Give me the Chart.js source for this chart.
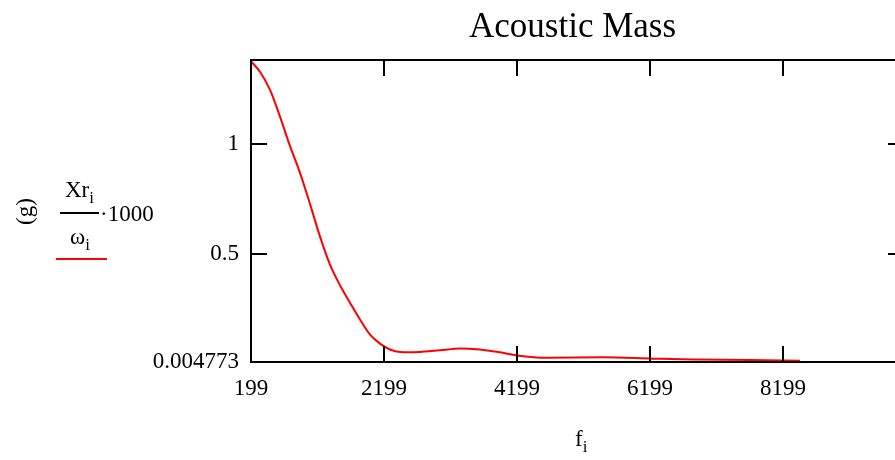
<!DOCTYPE html>
<html><head><meta charset="utf-8">
<script src="https://cdn.jsdelivr.net/npm/chart.js@4/dist/chart.umd.min.js"></script>
<style>
html,body{margin:0;padding:0;background:#fff;overflow:hidden;width:895px;height:460px;}
#wrap{position:relative;width:920px;height:460px;}
canvas{position:absolute;left:0;top:0;}
.t{position:absolute;font-family:"Liberation Serif","Times New Roman",serif;color:#000;white-space:nowrap;line-height:1;}
.sub{font-size:17px;position:relative;top:6px;}
</style></head>
<body>
<div id="wrap">
<canvas id="c" width="920" height="460"></canvas>
<div class="t" style="left:469px;top:8px;font-size:35px;">Acoustic Mass</div>
<div class="t" style="left:13px;top:201px;font-size:23px;transform:rotate(-90deg);transform-origin:12px 12px;">(g)</div>
<div class="t" style="left:65px;top:178px;font-size:23px;">Xr<span class="sub">i</span></div>
<div style="position:absolute;left:60px;top:212px;width:39px;height:2px;background:#000;"></div>
<div class="t" style="left:100px;top:202px;font-size:23px;">·1000</div>
<div class="t" style="left:70px;top:225px;font-size:23px;">ω<span class="sub">i</span></div>
<div style="position:absolute;left:56px;top:258px;width:51px;height:2px;background:#ff0000;"></div>
<div class="t" style="left:575px;top:427px;font-size:23px;">f<span class="sub">i</span></div>
</div>
<script>
const freq = [199, 334, 485, 635, 785, 936, 1086, 1237, 1387, 1537, 1688, 1838, 1989, 2139, 2289, 2440, 2590, 2740, 3041, 3342, 3642, 3943, 4199, 4650, 5492, 6244, 6846, 7703, 8455];
const massG = [1.381, 1.332, 1.249, 1.127, 0.993, 0.870, 0.728, 0.578, 0.450, 0.356, 0.276, 0.199, 0.130, 0.089, 0.062, 0.050, 0.049, 0.051, 0.058, 0.067, 0.062, 0.049, 0.035, 0.024, 0.026, 0.020, 0.016, 0.014, 0.010];
const xTicks = [199, 2199, 4199, 6199, 8199];
const yTicks = [0.004773, 0.5, 1];
const xMin = 199, xMax = 10019;
const yMin = 0.004773, yMax = 1.386;

const frame = {
  id: 'frame',
  afterDraw(chart) {
    const ctx = chart.ctx, a = chart.chartArea;
    const xs = chart.scales.x, ys = chart.scales.y;
    ctx.save();
    ctx.strokeStyle = '#000';
    ctx.lineWidth = 2;
    ctx.beginPath();
    ctx.rect(a.left, a.top, a.right - a.left, a.bottom - a.top);
    ctx.stroke();
    const L = 16;
    ctx.beginPath();
    xTicks.slice(1).forEach(v => {
      const px = Math.round(xs.getPixelForValue(v));
      ctx.moveTo(px, a.bottom); ctx.lineTo(px, a.bottom - L);
      ctx.moveTo(px, a.top); ctx.lineTo(px, a.top + L);
    });
    yTicks.slice(1).forEach(v => {
      const py = Math.round(ys.getPixelForValue(v));
      ctx.moveTo(a.left, py); ctx.lineTo(a.left + L, py);
      ctx.moveTo(a.right, py); ctx.lineTo(a.right - L, py);
    });
    ctx.stroke();
    ctx.restore();
  }
};

new Chart(document.getElementById('c'), {
  type: 'line',
  data: {
    datasets: [{
      data: freq.map((f, i) => ({x: f, y: massG[i]})),
      borderColor: '#ff0000',
      borderWidth: 2,
      pointRadius: 0,
      tension: 0.4,
      cubicInterpolationMode: 'monotone',
      fill: false
    }]
  },
  options: {
    responsive: false,
    animation: false,
    devicePixelRatio: 1,
    layout: {padding: {top: 60, right: 16, left: 0, bottom: 0}},
    plugins: {legend: {display: false}, title: {display: false}, tooltip: {enabled: false}},
    scales: {
      x: {
        type: 'linear', min: xMin, max: xMax,
        afterBuildTicks: s => { s.ticks = xTicks.map(v => ({value: v})); },
        afterFit: s => { s.height = 460 - 362; },
        grid: {display: false, drawTicks: false},
        border: {display: false},
        ticks: {color: '#000', padding: 13, maxRotation: 0, autoSkip: false,
          font: {family: '"Liberation Serif", "Times New Roman", serif', size: 23},
          callback: v => String(v)}
      },
      y: {
        type: 'linear', min: yMin, max: yMax,
        afterBuildTicks: s => { s.ticks = yTicks.map(v => ({value: v})); },
        afterFit: s => { s.width = 251; },
        grid: {display: false, drawTicks: false},
        border: {display: false},
        ticks: {color: '#000', padding: 12, autoSkip: false,
          font: {family: '"Liberation Serif", "Times New Roman", serif', size: 23},
          callback: v => String(v)}
      }
    }
  },
  plugins: [frame]
});
</script>
</body></html>
